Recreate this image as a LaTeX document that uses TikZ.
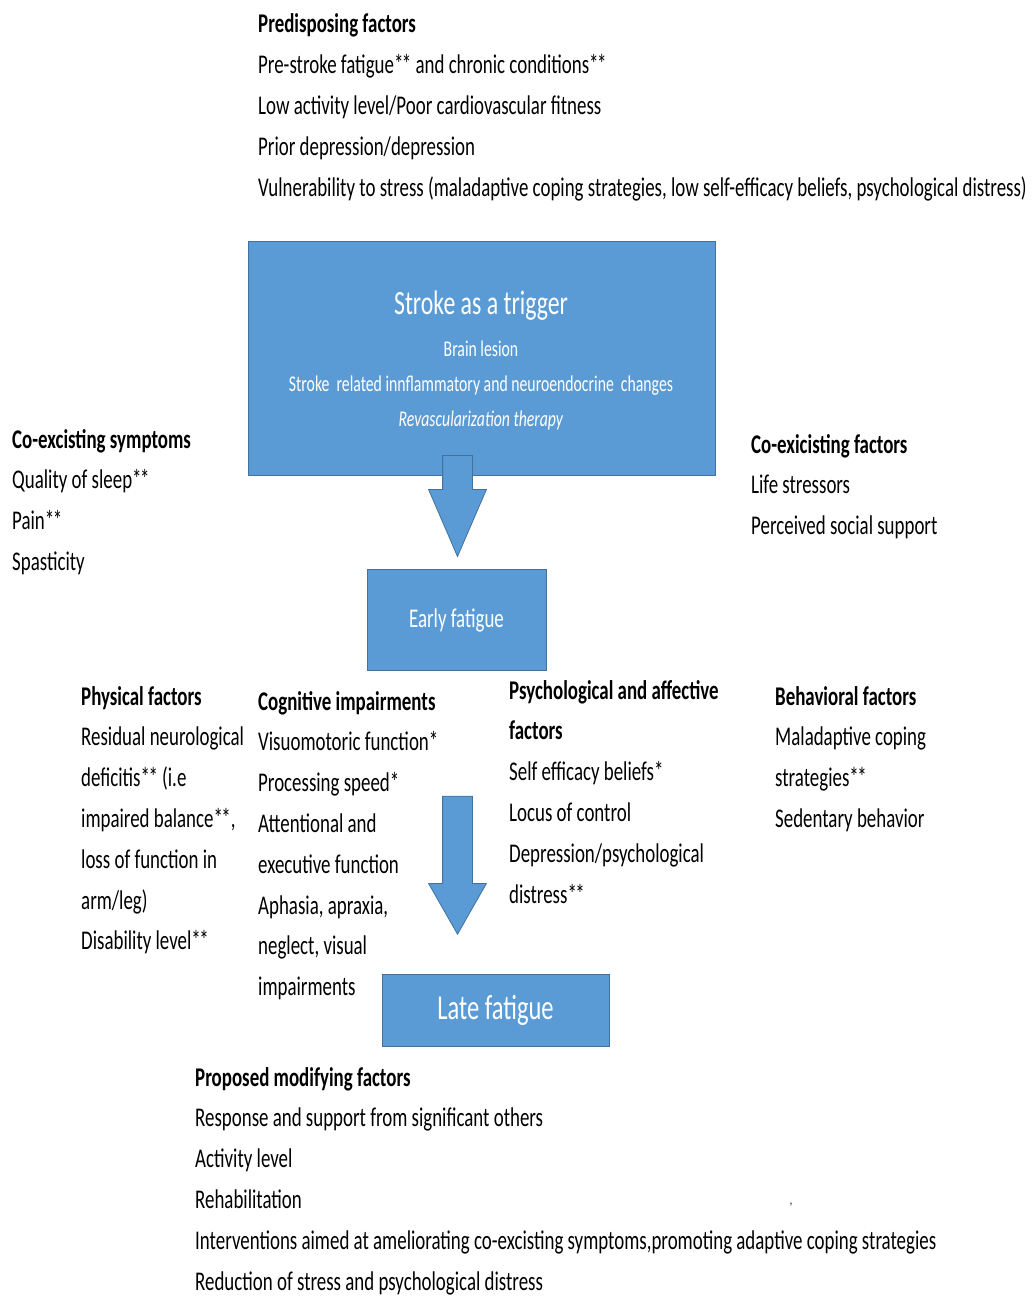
\documentclass[tikz,border=0pt]{standalone}
\usepackage{fontspec}
\setmainfont{Carlito}[FakeStretch=0.70]
\usetikzlibrary{shapes.arrows}
\definecolor{boxblue}{HTML}{5B9BD5}
\definecolor{boxline}{HTML}{41719C}
\newcommand{\dstar}{*\kern-1.5pt*}

\begin{document}
\begin{tikzpicture}
  [x=1pt,y=-1pt,inner sep=0pt,
   box/.style={rectangle,draw=boxline,fill=boxblue,line width=0.8pt},
   boxtext/.style={text=white,align=center},
   blockarrow/.style={single arrow,shape border rotate=270,draw=boxline,fill=boxblue,line width=0.8pt,
     inner sep=14.5pt,single arrow head extend=14pt,single arrow head indent=0pt,anchor=tip},
   list/.style={anchor=base west,align=left,font=\fontsize{27}{40.8}\selectfont}]
  \useasboundingbox (0,0) rectangle (1035,1297);
  % boxes
  \node at (481.5,358) (stroke) [box,minimum width=467pt,minimum height=234pt] {};
  \node at (481,306) (strokettl) [boxtext,font=\fontsize{34}{40}\selectfont] {Stroke as a trigger};
  \node at (481,385) (strokesub) [boxtext,font=\fontsize{22.5}{35}\selectfont]
    {Brain lesion\\Stroke\ \ related innflammatory and neuroendocrine\ \ changes\\\textit{Revascularization therapy}};
  \node at (456.5,620) (early) [box,minimum width=179pt,minimum height=101pt,boxtext,
    font=\fontsize{27}{30}\selectfont] {Early fatigue};
  \node at (495.5,1010.5) (late) [box,minimum width=227pt,minimum height=72pt,boxtext,
    font=\fontsize{35}{36}\selectfont] {Late fatigue};
  % block arrows (placed at their tips)
  \node at (457.5,557.5) (arr1) [blockarrow,minimum height=101pt,single arrow tip angle=46.7] {};
  \node at (457.5,935) (arr2) [blockarrow,minimum height=138pt,single arrow tip angle=59.4] {};
  % factor lists (placed at the baseline of their last line)
  \node at (258,196.2) (pre) [list]
    {\textbf{Predisposing factors}\\
     Pre-stroke fatigue\dstar{} and chronic conditions\dstar\\
     Low activity level/Poor cardiovascular fitness\\
     Prior depression/depression\\
     Vulnerability to stress (maladaptive coping strategies, low self-efficacy beliefs, psychological distress)};
  \node at (12,570.4) (cosym) [list]
    {\textbf{Co-excisting symptoms}\\
     Quality of sleep\dstar\\
     Pain\dstar\\
     Spasticity};
  \node at (751,534.6) (cofac) [list]
    {\textbf{Co-exicisting factors}\\
     Life stressors\\
     Perceived social support};
  \node at (81,949.8) (phys) [list]
    {\textbf{Physical factors}\\
     Residual neurological\\
     deficitis\dstar{} (i.e\\
     impaired balance\dstar,\\
     loss of function in\\
     arm/leg)\\
     Disability level\dstar};
  \node at (258,995.6) (cog) [list]
    {\textbf{Cognitive impairments}\\
     Visuomotoric function*\\
     Processing speed*\\
     Attentional and\\
     executive function\\
     Aphasia, apraxia,\\
     neglect, visual\\
     impairments};
  \node at (509,903) (psy) [list]
    {\textbf{Psychological and affective}\\
     \textbf{factors}\\
     Self efficacy beliefs*\\
     Locus of control\\
     Depression/psychological\\
     distress\dstar};
  \node at (775,827.4) (beh) [list]
    {\textbf{Behavioral factors}\\
     Maladaptive coping\\
     strategies\dstar\\
     Sedentary behavior};
  \node at (195,1290) (mod) [list]
    {\textbf{Proposed modifying factors}\\
     Response and support from significant others\\
     Activity level\\
     Rehabilitation\\
     Interventions aimed at ameliorating co-excisting symptoms,promoting adaptive coping strategies\\
     Reduction of stress and psychological distress};
  \node at (791,1205) (tick) [font=\fontsize{14}{14}\selectfont] {,};
\end{tikzpicture}
\end{document}
